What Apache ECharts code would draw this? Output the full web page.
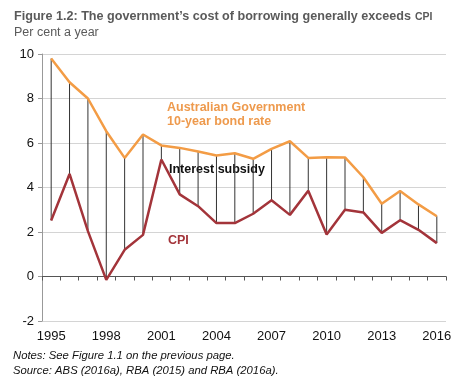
<!DOCTYPE html>
<html>
<head>
<meta charset="utf-8">
<script src="https://cdn.jsdelivr.net/npm/echarts@6/dist/echarts.min.js"></script>
<style>
html,body{margin:0;padding:0;background:#fff;}
#chart{width:461px;height:387px;}
</style>
</head>
<body>
<div id="chart"></div>
<script>
const years = ['1995','1996','1997','1998','1999','2000','2001','2002','2003','2004','2005','2006','2007','2008','2009','2010','2011','2012','2013','2014','2015','2016'];
const bondRate = [9.8, 8.73, 8.0, 6.53, 5.33, 6.38, 5.89, 5.78, 5.62, 5.44, 5.54, 5.29, 5.74, 6.08, 5.33, 5.36, 5.35, 4.46, 3.27, 3.84, 3.24, 2.71];
const cpi = [2.52, 4.61, 2.04, -0.15, 1.2, 1.87, 5.26, 3.69, 3.16, 2.4, 2.4, 2.82, 3.43, 2.77, 3.85, 1.89, 3.0, 2.88, 1.96, 2.53, 2.1, 1.5];
const yTicks = [-2, 0, 2, 4, 6, 8, 10];

const FONT = '"Liberation Sans", Arial, sans-serif';
const chart = echarts.init(document.getElementById('chart'), null, {renderer: 'canvas'});
const option = {
  animation: false,
  textStyle: {fontFamily: FONT},
  grid: {left: 42, right: 15, top: 54, bottom: 66, containLabel: false},
  graphic: [
    {type: 'text', x: 14, y: 23, style: {text: 'Figure 1.2: The government\u2019s cost of borrowing generally exceeds',
      fontFamily: FONT, fontSize: 12.6, fontWeight: 'bold', fill: '#5a5a5a', verticalAlign: 'bottom'}},
    {type: 'text', x: 415, y: 22.6, style: {text: 'CPI',
      fontFamily: FONT, fontSize: 10.5, fontWeight: 'bold', fill: '#5a5a5a', verticalAlign: 'bottom'}},
    {type: 'text', left: 14, top: 26, style: {text: 'Per cent a year', fontFamily: FONT, fontSize: 12.5, fill: '#5a5a5a'}},
    {type: 'text', left: 167, top: 101, style: {text: 'Australian Government\n10-year bond rate', fontFamily: FONT, fontSize: 12.5, fontWeight: 'bold', fill: '#EE9A4D', lineHeight: 14}},
    {type: 'text', left: 169, top: 163, style: {text: 'Interest subsidy', fontFamily: FONT, fontSize: 12.5, fontWeight: 'bold', fill: '#111'}},
    {type: 'text', left: 168, top: 234, style: {text: 'CPI', fontFamily: FONT, fontSize: 12.5, fontWeight: 'bold', fill: '#A3343A'}},
    {type: 'text', left: 13, top: 350, style: {text: 'Notes: See Figure 1.1 on the previous page.', fontFamily: FONT, fontSize: 11.3, fontStyle: 'italic', fill: '#111'}},
    {type: 'text', left: 13, top: 365, style: {text: 'Source: ABS (2016a), RBA (2015) and RBA (2016a).', fontFamily: FONT, fontSize: 11.3, fontStyle: 'italic', fill: '#111'}}
  ],
  xAxis: [
    {type: 'category', data: years, position: 'bottom', boundaryGap: true,
     axisLine: {show: false, onZero: false}, axisTick: {show: false},
     axisLabel: {interval: 2, color: '#111', fontSize: 13, fontFamily: FONT, margin: 9},
     splitLine: {show: false}},
    {type: 'category', data: years, position: 'top', boundaryGap: true,
     axisLine: {show: true, onZero: true, lineStyle: {color: '#555', width: 1}},
     axisTick: {show: true, inside: true, length: 4, interval: 0, lineStyle: {color: '#555'}},
     axisLabel: {show: false}, splitLine: {show: false}}
  ],
  yAxis: {type: 'value', min: yTicks[0], max: yTicks[yTicks.length - 1], interval: 2,
    axisLine: {show: true, lineStyle: {color: '#999', width: 1}},
    axisTick: {show: true, length: 4, lineStyle: {color: '#999'}},
    axisLabel: {color: '#111', fontSize: 13, fontFamily: FONT, margin: 8},
    splitLine: {show: true, lineStyle: {color: '#d4d4d4', width: 1}}},
  series: [
    {type: 'custom', xAxisIndex: 0, z: 1,
     data: years.map((y, i) => [i, bondRate[i], cpi[i]]),
     renderItem: function (params, api) {
       const p1 = api.coord([api.value(0), api.value(1)]);
       const p2 = api.coord([api.value(0), api.value(2)]);
       return {type: 'line', shape: {x1: p1[0], y1: p1[1], x2: p2[0], y2: p2[1]},
               style: {stroke: '#333', lineWidth: 1}};
     }},
    {type: 'line', name: 'Bond rate', xAxisIndex: 0, data: bondRate, symbol: 'none', z: 3,
     lineStyle: {color: '#F39C45', width: 2.5}},
    {type: 'line', name: 'CPI', xAxisIndex: 0, data: cpi, symbol: 'none', z: 3,
     lineStyle: {color: '#A3343A', width: 2.5}}
  ]
};
chart.setOption(option);
</script>
</body>
</html>
